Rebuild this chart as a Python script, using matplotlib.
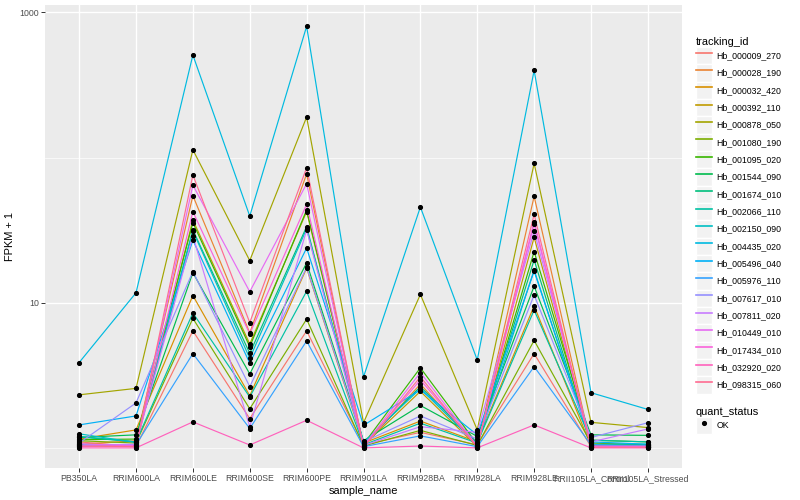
import matplotlib

matplotlib.use("Agg")
import matplotlib.pyplot as plt
from matplotlib.lines import Line2D
from matplotlib.patches import Rectangle
from matplotlib.ticker import FixedLocator, FixedFormatter, NullFormatter

plt.rcParams["font.family"] = ["Liberation Sans", "DejaVu Sans"]

samples = [
    "PB350LA", "RRIM600LA", "RRIM600LE", "RRIM600SE", "RRIM600PE", "RRIM901LA",
    "RRIM928BA", "RRIM928LA", "RRIM928LE", "RRII105LA_Control", "RRII105LA_Stressed",
]

tracking_ids = [
    "Hb_000009_270", "Hb_000028_190", "Hb_000032_420", "Hb_000392_110", "Hb_000878_050",
    "Hb_001080_190", "Hb_001095_020", "Hb_001544_090", "Hb_001674_010", "Hb_002066_110",
    "Hb_002150_090", "Hb_004435_020", "Hb_005496_040", "Hb_005976_110", "Hb_007617_010",
    "Hb_007811_020", "Hb_010449_010", "Hb_017434_010", "Hb_032920_020", "Hb_098315_060",
]

# FPKM + 1, one row per tracking_id, columns follow samples
fpkm = [
    [1.10, 1.02, 6.4, 1.59, 6.4, 1.05, 1.28, 1.05, 4.46, 1.02, 1.04],
    [1.06, 1.12, 54.6, 6.2, 77, 1.02, 2.75, 1.03, 54, 1.04, 1.02],
    [1.15, 1.33, 11.2, 2.29, 17.3, 1.08, 1.53, 1.10, 9.5, 1.03, 1.02],
    [1.03, 1.04, 37.1, 5.2, 42.4, 1.04, 2.45, 1.02, 28.2, 1.02, 1.03],
    [2.32, 2.57, 113, 19.5, 190, 1.49, 11.4, 1.33, 91, 1.50, 1.38],
    [1.12, 1.08, 7.8, 1.86, 7.7, 1.03, 1.32, 1.04, 5.5, 1.08, 1.05],
    [1.14, 1.15, 35.6, 4.98, 43.5, 1.06, 3.56, 1.06, 22.5, 1.13, 1.10],
    [1.18, 1.23, 16.1, 3.23, 18.8, 1.12, 1.96, 1.20, 13.0, 1.23, 1.22],
    [1.19, 1.10, 31.7, 4.48, 33.4, 1.07, 2.64, 1.08, 19.7, 1.06, 1.06],
    [1.20, 1.10, 8.5, 2.24, 12.0, 1.05, 1.48, 1.08, 8.9, 1.13, 1.10],
    [1.25, 1.09, 31.2, 4.14, 32.3, 1.09, 2.56, 1.05, 16.8, 1.05, 1.04],
    [3.87, 11.7, 508, 39.5, 801, 3.08, 45.6, 4.03, 398, 2.40, 1.84],
    [1.44, 1.66, 27.0, 3.83, 23.8, 1.43, 2.51, 1.23, 16.5, 1.10, 1.06],
    [1.05, 1.05, 4.46, 1.36, 5.45, 1.02, 1.21, 1.02, 3.63, 1.05, 1.02],
    [1.08, 2.04, 16.4, 2.64, 17.5, 1.10, 1.66, 1.15, 11.3, 1.18, 1.49],
    [1.04, 1.06, 28.8, 1.40, 31.7, 1.04, 1.40, 1.28, 31, 1.10, 1.35],
    [1.07, 1.03, 64.6, 11.9, 66, 1.03, 3.30, 1.03, 34.8, 1.02, 1.03],
    [1.02, 1.04, 42.4, 6.1, 47.6, 1.02, 2.94, 1.02, 36.1, 1.03, 1.02],
    [1.00, 1.00, 1.51, 1.047, 1.55, 1.00, 1.03, 1.00, 1.44, 1.00, 1.00],
    [1.03, 1.02, 75.8, 7.3, 85, 1.01, 3.09, 1.01, 40.6, 1.01, 1.01],
]

colors = [
    "#F8766D", "#EA8331", "#D89000", "#C09B00", "#A3A500", "#7CAE00", "#39B600",
    "#00BB4E", "#00BF7D", "#00C1A3", "#00BFC4", "#00BAE0", "#00B0F6", "#35A2FF",
    "#9590FF", "#C77CFF", "#E76BF3", "#FA62DB", "#FF62BC", "#FF6C91",
]

fig = plt.figure(figsize=(8, 5), dpi=100)
ax = fig.add_axes([45 / 800, 1 - 468 / 500, 637 / 800, 463 / 500])
ax.set_facecolor("#EBEBEB")

xs = list(range(len(samples)))
for name, values, color in zip(tracking_ids, fpkm, colors):
    ax.plot(xs, values, color=color, linewidth=0.85, zorder=3)
for values in fpkm:
    ax.plot(xs, values, linestyle="none", marker="o", markersize=2.7, color="black", zorder=4)

ax.set_yscale("log")
ax.set_ylim(0.727, 1123)
ax.set_xlim(-0.6, len(samples) - 0.4)
ax.yaxis.set_major_locator(FixedLocator([10, 1000]))
ax.yaxis.set_major_formatter(FixedFormatter(["10", "1000"]))
ax.yaxis.set_minor_locator(FixedLocator([1, 100]))
ax.yaxis.set_minor_formatter(NullFormatter())
ax.tick_params(axis="y", which="minor", length=0)
ax.set_xticks(xs)
ax.set_xticklabels(samples)
ax.tick_params(axis="both", which="major", length=2.8, width=0.7, color="#333333",
               labelsize=6.3, labelcolor="#4D4D4D", pad=1.5)
ax.grid(True, which="major", color="white", linewidth=1.0, zorder=1)
ax.grid(True, which="minor", axis="y", color="white", linewidth=0.5, zorder=1)
ax.set_axisbelow(True)
for spine in ax.spines.values():
    spine.set_visible(False)
ax.set_xlabel("sample_name", fontsize=7.9, labelpad=2)
ax.set_ylabel("FPKM + 1", fontsize=7.9, labelpad=3)

key_bg = Rectangle((0, 0), 1, 1, facecolor="#F2F2F2", edgecolor="white", linewidth=1)
handles = [(key_bg, Line2D([], [], color=c, linewidth=1.2)) for c in colors]
leg1 = fig.legend(handles, tracking_ids, loc="upper left", bbox_to_anchor=(696 / 800, 1 - 37 / 500),
                  frameon=False, title="tracking_id", title_fontsize=7.9, fontsize=6.3,
                  handlelength=1.85, handleheight=2.67, labelspacing=0, handletextpad=0.5,
                  borderpad=0, borderaxespad=0)
leg1._legend_box.align = "left"

ok_handle = (key_bg, Line2D([], [], linestyle="none", marker="o", markersize=2.7, color="black"))
leg2 = fig.legend([ok_handle], ["OK"], loc="upper left", bbox_to_anchor=(696 / 800, 1 - 407 / 500),
                  frameon=False, title="quant_status", title_fontsize=7.9, fontsize=6.3,
                  handlelength=1.85, handleheight=2.67, labelspacing=0, handletextpad=0.5,
                  borderpad=0, borderaxespad=0)
leg2._legend_box.align = "left"

fig.savefig("out.png")
